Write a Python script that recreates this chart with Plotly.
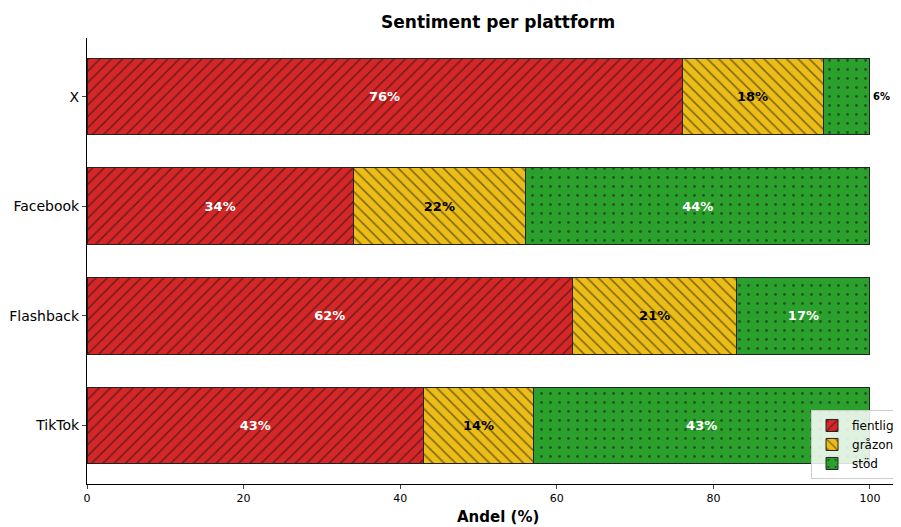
import plotly.graph_objects as go

platforms = ["X", "Facebook", "Flashback", "TikTok"]
fientlig = [76, 34, 62, 43]
grazon = [18, 22, 21, 14]
stod = [6, 44, 17, 43]
series_names = ["fientlig", "gråzon", "stöd"]
x_ticks = [0, 20, 40, 60, 80, 100]

colors = ["#d62728", "#ecbd16", "#2ca02c"]
shapes = ["/", "\\", "."]
text_colors = ["white", "black", "white"]

FONT = "DejaVu Sans"
fig = go.Figure()
for name, vals, col, shp, tc in zip(series_names, [fientlig, grazon, stod], colors, shapes, text_colors):
    pos = ["outside" if v < 8 else "inside" for v in vals]
    fig.add_trace(go.Bar(
        y=platforms, x=vals, name=name, orientation="h", width=0.7,
        marker=dict(color=col, line=dict(color="#222222", width=1),
                    pattern=dict(shape=shp, fgcolor="#111111", size=8 if shp != "." else 9,
                                 solidity=0.2 if shp != "." else 0.08)),
        text=[f"{v}%" for v in vals], textposition=pos,
        insidetextanchor="middle",
        insidetextfont=dict(family=FONT, size=13, color=tc),
        outsidetextfont=dict(family=FONT, size=10, color="black"),
        texttemplate="<b>%{text}</b>", cliponaxis=False,
    ))

fig.add_annotation(text="<b>Andel (%)</b>", xref="paper", yref="paper", x=0.505,
                   y=-(517 - 484) / 446, xanchor="center", yanchor="middle",
                   showarrow=False, font=dict(size=15, family=FONT))

fig.update_layout(
    barmode="stack", width=893, height=519,
    margin=dict(l=79, r=0, t=30, b=43, autoexpand=False),
    plot_bgcolor="white", paper_bgcolor="white",
    font=dict(family=FONT, size=13, color="black"),
    title=dict(text="<b>Sentiment per plattform</b>", x=0.505, xref="paper", xanchor="center",
               y=1 - 14 / 519, yanchor="middle", font=dict(size=17, family=FONT)),
    xaxis=dict(range=[0, 103.96], tickvals=x_ticks, showline=True, linecolor="black", linewidth=1,
               ticks="outside", ticklen=4, showgrid=False, zeroline=False,
               tickfont=dict(size=11)),
    yaxis=dict(categoryorder="array", categoryarray=platforms, range=[3.535, -0.535],
               showline=True, linecolor="black", linewidth=1, ticks="outside", ticklen=4,
               showgrid=False, tickfont=dict(size=14)),
    legend=dict(x=0.9988, y=0.166, xanchor="right", yanchor="top", bgcolor="rgba(255,255,255,0.85)",
                bordercolor="#cccccc", borderwidth=1, font=dict(size=12), traceorder="normal",
                itemwidth=30, tracegroupgap=0),
)
fig.write_html("out.html")
